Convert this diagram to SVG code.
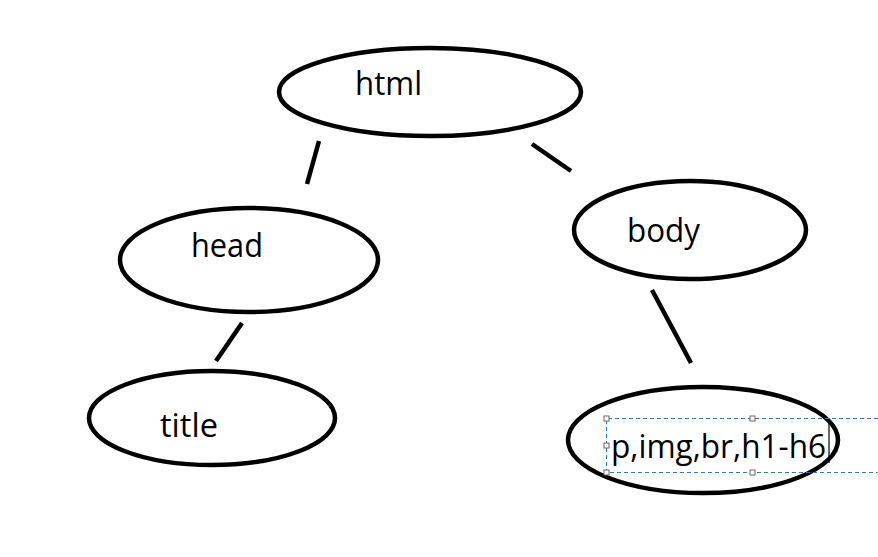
<svg xmlns="http://www.w3.org/2000/svg" width="878" height="557" viewBox="0 0 878 557">
<style>
.n{fill:#fff;stroke:#000;stroke-width:4.5}
.t{font-family:"Open Sans","Liberation Sans",sans-serif;font-size:32px;fill:#000}
.c{stroke:#000;stroke-width:4.5;stroke-linecap:butt}
.sel{fill:none;stroke:#1a7fd4;stroke-width:1;stroke-dasharray:4 3}
.h{fill:#fff;stroke:#666;stroke-width:1}
</style>
<rect width="878" height="557" fill="#fff"/>
<g id="connectors">
<line class="c" x1="319" y1="141" x2="307" y2="184"/>
<line class="c" x1="532" y1="144" x2="571" y2="171"/>
<line class="c" x1="242" y1="323" x2="216" y2="361"/>
<line class="c" x1="652" y1="290" x2="691" y2="363"/>
</g>
<g id="html"><ellipse class="n" cx="430" cy="92" rx="151" ry="44"/><text class="t" x="355" y="95" textLength="67" lengthAdjust="spacingAndGlyphs">html</text></g>
<g id="head"><ellipse class="n" cx="249" cy="260" rx="129" ry="52"/><text class="t" x="191" y="257" textLength="72" lengthAdjust="spacingAndGlyphs">head</text></g>
<g id="body"><ellipse class="n" cx="690" cy="230" rx="116" ry="49"/><text class="t" x="627" y="242" textLength="73" lengthAdjust="spacingAndGlyphs">body</text></g>
<g id="title"><ellipse class="n" cx="212" cy="418" rx="123" ry="47"/><text class="t" x="160" y="437" textLength="58" lengthAdjust="spacingAndGlyphs">title</text></g>
<g id="content"><ellipse class="n" cx="703" cy="440" rx="135" ry="53"/><text class="t" x="611" y="458" textLength="215" lengthAdjust="spacingAndGlyphs">p,img,br,h1-h6</text>
<path class="sel" d="M878 418.5H606.5V472.5H878"/>
<line x1="829" y1="419" x2="829" y2="463" stroke="#000" stroke-width="1.2"/>
<rect class="h" x="604" y="416" width="5" height="5"/>
<rect class="h" x="604" y="443" width="5" height="5"/>
<rect class="h" x="604" y="470" width="5" height="5"/>
<rect class="h" x="750" y="416" width="5" height="5"/>
<rect class="h" x="750" y="470" width="5" height="5"/>
</g>
</svg>
